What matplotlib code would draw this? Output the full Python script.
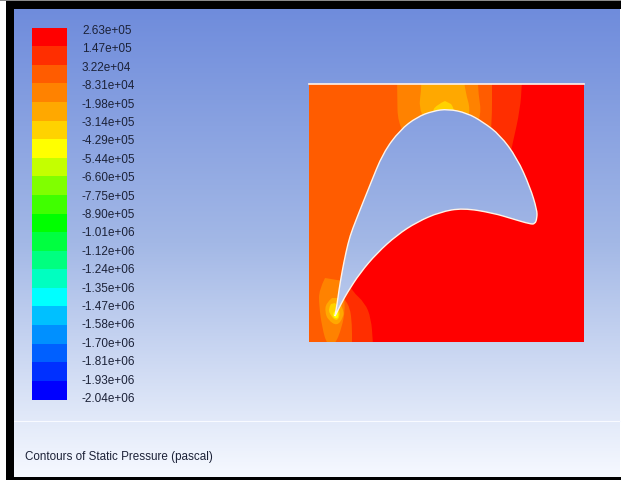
import numpy as np
import matplotlib
matplotlib.use('Agg')
import matplotlib.pyplot as plt
from matplotlib.colors import LinearSegmentedColormap
from matplotlib.patches import PathPatch, Rectangle
from matplotlib.path import Path

# legend
levels = ['2.63e+05', '1.47e+05', '3.22e+04', '-8.31e+04', '-1.98e+05', '-3.14e+05', '-4.29e+05',
          '-5.44e+05', '-6.60e+05', '-7.75e+05', '-8.90e+05', '-1.01e+06', '-1.12e+06', '-1.24e+06',
          '-1.35e+06', '-1.47e+06', '-1.58e+06', '-1.70e+06', '-1.81e+06', '-1.93e+06', '-2.04e+06']
band_colors = ['#ff0000', '#ff2e00', '#ff5c00', '#ff8200', '#ffa800', '#ffd200', '#ffff00', '#c4ff00',
               '#80ff00', '#40ff00', '#00ff00', '#00ff40', '#00ff80', '#00ffc0', '#00ffff', '#00c0ff',
               '#0090ff', '#0060ff', '#0030ff', '#0000ff']

# blade outline, pixel coords of the picture
blade_x = [335, 337, 339, 342, 346, 350, 356, 370, 383, 400, 417, 433, 448, 467, 483, 500, 517, 530, 537,
           537, 535, 530, 513, 493, 463, 440, 417, 397, 377, 360, 347, 341, 335]
blade_y = [316, 305, 290, 272, 252, 236, 220, 185, 153, 130, 117, 111, 109, 113, 122, 135, 158, 187, 210,
           218, 224, 224, 219, 213, 208, 212, 222, 235, 253, 273, 293, 304, 316]

# pressure contours, painted from high to low
zones = [
    ('#ff2e00', [(290, 60), (522, 60), (522, 84), (520, 110), (513, 142), (500, 200), (420, 190), (365, 240),
                 (347, 280), (352, 291), (365, 303), (371, 318), (373, 342), (373, 360), (290, 360)]),
    ('#ff5c00', [(290, 60), (492, 60), (492, 84), (492, 122), (488, 170), (400, 180), (358, 240), (343, 275),
                 (342, 296), (350, 307), (352, 325), (352, 342), (352, 360), (290, 360)]),
    ('#ff8200', [(397, 60), (397, 84), (398, 135), (440, 160), (483, 125), (477, 84), (477, 60)]),
    ('#ff8200', [(325, 278), (319, 290), (319, 305), (322, 327), (327, 345), (335, 345), (342, 327), (345, 310),
                 (344, 300), (345, 280), (337, 280)]),
    ('#ffa800', [(422, 60), (422, 84), (418, 115), (445, 140), (473, 118), (463, 84), (463, 60)]),
    ('#ffa800', [(332, 298), (326, 303), (325, 312), (328, 320), (337, 326), (343, 318), (344, 310), (338, 298)]),
    ('#ffd200', [(445, 101), (438, 104), (431, 112), (445, 125), (457, 112), (451, 104)]),
    ('#ffd200', [(331, 304), (328, 309), (331, 316), (336, 321), (340, 317), (339, 308), (335, 303)]),
    ('#ffff00', [(335, 311), (332, 314), (335, 319), (339, 317), (338, 312)]),
]

W, H = 621, 480
fig = plt.figure(figsize=(W / 100, H / 100), dpi=100, facecolor='white')
ax = fig.add_axes([0, 0, 1, 1])
ax.set_xlim(0, W)
ax.set_ylim(H, 0)
ax.axis('off')


def smooth(points):
    # quadratic curves through the midpoints, the ends stay where they are
    pts = np.array(points, dtype=float)
    verts = [pts[0]]
    codes = [Path.MOVETO]
    for i in range(1, len(pts) - 1):
        end = pts[i + 1] if i == len(pts) - 2 else (pts[i] + pts[i + 1]) / 2
        verts += [pts[i], end]
        codes += [Path.CURVE3, Path.CURVE3]
    return Path(verts, codes)


grad = LinearSegmentedColormap.from_list('bg', ['#6f8cdc', '#a3b8e6', '#f6f9ff'])
ramp = np.linspace(0, 1, 256).reshape(-1, 1)
bg = ax.imshow(ramp, extent=(14, W - 1, 477, 9), cmap=grad, aspect='auto', zorder=0)

# frame
ax.add_patch(Rectangle((6, 1), W, 8, color='black', lw=0, zorder=5))
ax.add_patch(Rectangle((6, 1), 8, 476, color='black', lw=0, zorder=5))
ax.add_patch(Rectangle((6, 477), W, 3, color='black', lw=0, zorder=5))
ax.add_patch(Rectangle((0, 0), W, 1, color='#8a8a8a', lw=0, zorder=5))
ax.plot([14, W], [421, 421], color='#f8faff', lw=0.8, zorder=1)

# legend bands and labels
band_top = 27.7
band_h = 18.58
for i, c in enumerate(band_colors):
    ax.bar(49.5, band_h + 0.3, width=35, bottom=band_top + i * band_h, color=c, lw=0, zorder=2)
for i, t in enumerate(levels):
    ax.text(82, 31 + i * 18.4, t, family='Liberation Sans', fontsize=8.5,
            color='#1c2238', ha='left', va='center', zorder=3)

# flow field
field = Rectangle((309, 84), 274.5, 258, facecolor='#ff0000', lw=0, zorder=2)
ax.add_patch(field)
for c, pts in zones:
    p = PathPatch(smooth(pts), facecolor=c, lw=0, zorder=2.2)
    ax.add_patch(p)
    p.set_clip_path(field)

# blade shows the background through it
blade = smooth(list(zip(blade_x, blade_y)))
blade_bg = ax.imshow(ramp, extent=(14, W - 1, 477, 9), cmap=grad, aspect='auto', zorder=2.5)
blade_bg.set_clip_path(PathPatch(blade, transform=ax.transData))
ax.add_patch(PathPatch(blade, facecolor='none', edgecolor='#fff4e8', lw=1.0, zorder=2.6))
ax.plot([309, 583.5], [84.3, 84.3], color='#fff2e8', lw=1.2, zorder=2.7)

ax.text(25, 457, 'Contours of Static Pressure (pascal)', family='Liberation Sans',
        fontsize=8.4, color='#1c2238', ha='left', va='center', zorder=3)

ax.set_xlim(0, W)
ax.set_ylim(H, 0)
fig.savefig('out.png', dpi=100)
